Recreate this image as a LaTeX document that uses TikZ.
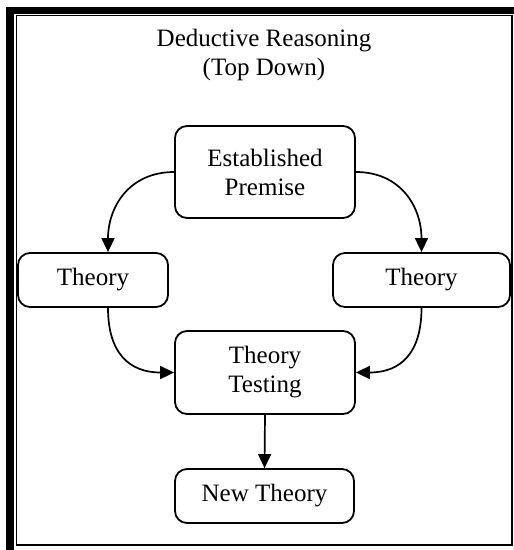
\documentclass[tikz,border=0pt]{standalone}
\usepackage{fontspec}
\setmainfont{Liberation Serif}
\usetikzlibrary{arrows.meta,calc}
\begin{document}
\begin{tikzpicture}[x=1pt,y=-1pt,
  box/.style={draw,line width=1.8pt,rounded corners=12pt,align=center,
    inner sep=0pt,font=\fontsize{25}{29}\selectfont},
  heading/.style={anchor=base,inner sep=0pt,font=\fontsize{25}{29}\selectfont},
  link/.style={line width=1.7pt,-{Triangle[length=14pt,width=13pt]}}]
  % page and border
  \fill[white] (0,0) rectangle (514,550);
  \useasboundingbox (0,0) rectangle (514,550);
  \fill[black] (6,6.5) rectangle (514,13.5);
  \fill[black] (6,6.5) rectangle (14,550);
  \draw[line width=1.6pt] (16.5,15.5) rectangle (512,545);

  % heading
  \node[heading] (title1) at (264,46.5) {Deductive Reasoning};
  \node[heading] (title2) at (264,75) {(Top Down)};

  % boxes
  \node[box,minimum width=180pt,minimum height=92pt] (prem) at (265,172) {Established\\Premise};
  \node[box,minimum width=150pt,minimum height=54pt] (thL) at (93,280) {Theory};
  \node[box,minimum width=177pt,minimum height=54pt] (thR) at (421.5,280) {Theory};
  \node[box,minimum width=180pt,minimum height=83pt] (tt) at (265,372.5) {Theory\\Testing};
  \node[box,minimum width=179pt,minimum height=54pt] (nt) at (264.5,496) {New Theory};

  % connectors
  \coordinate (inL) at ($(thL.north)+(15,0)$);
  \coordinate (outL) at ($(thL.south)+(15,0)$);
  \draw[link] (prem.west) .. controls +(-45,0) and +(0,-45) .. (inL);
  \draw[link] (prem.east) .. controls +(45,0) and +(0,-45) .. (thR.north);
  \draw[link] (outL) .. controls +(0,45) and +(-45,0) .. (tt.west);
  \draw[link] (thR.south) .. controls +(0,45) and +(45,0) .. (tt.east);
  \draw[link] (tt.south) -- (nt.north);
\end{tikzpicture}
\end{document}
